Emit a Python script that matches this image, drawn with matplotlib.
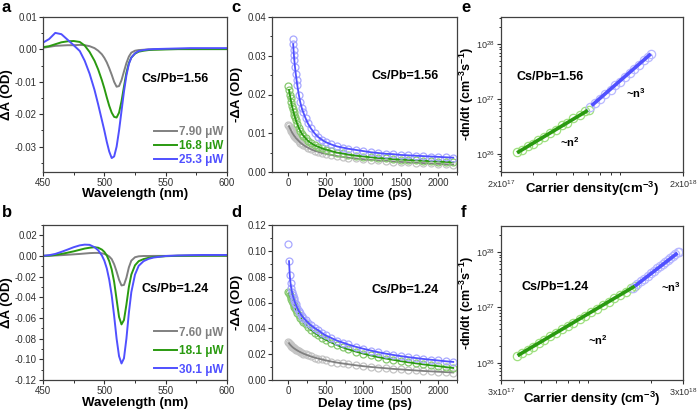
import matplotlib
matplotlib.use("Agg")
import matplotlib.pyplot as plt
from matplotlib.ticker import MultipleLocator, FixedLocator, LogLocator, NullFormatter

plt.rcParams['font.family'] = ['Liberation Sans', 'DejaVu Sans']
plt.rcParams['mathtext.fontset'] = 'custom'
plt.rcParams['mathtext.rm'] = 'Liberation Sans'
plt.rcParams['mathtext.bf'] = 'Liberation Sans:bold'

GRAY = '#808080'
GREEN = '#2a9a10'
BLUE = '#5050ff'
GRAY_M = '#c4c4c4'
GREEN_M = '#86c86e'
BLUE_M = '#a8a8ff'
GREEN_M2 = '#9ee07e'
BLUE_M2 = '#b8b8ff'

# ---- panel a / b : TA spectra ----
wl = [450, 455, 460, 465, 470, 475, 480, 484, 488, 492, 495, 498, 500, 502, 504,
      506, 508, 510, 512, 514, 516, 518, 520, 522, 525, 528, 532, 536, 540, 550,
      560, 570, 580, 590, 600]

a_labels = ['7.90 \u03bcW', '16.8 \u03bcW', '25.3 \u03bcW']
a_gray = [0.0005, 0.0008, 0.0011, 0.0012, 0.0013, 0.0013, 0.0014, 0.0013, 0.0010, 0.0004,
          -0.0004, -0.0015, -0.0026, -0.0040, -0.0058, -0.0078, -0.0100, -0.0115, -0.0113,
          -0.0095, -0.0068, -0.0042, -0.0022, -0.0010, -0.0004, -0.0002, -0.0001, 0.0000,
          0.0000, 0.0001, 0.0001, 0.0001, 0.0001, 0.0001, 0.0001]
a_green = [0.0007, 0.0010, 0.0016, 0.0022, 0.0025, 0.0026, 0.0023, 0.0012, -0.0008, -0.0035,
           -0.0062, -0.0095, -0.0120, -0.0148, -0.0174, -0.0195, -0.0208, -0.0210, -0.0195,
           -0.0160, -0.0115, -0.0072, -0.0042, -0.0025, -0.0013, -0.0007, -0.0004, -0.0002,
           -0.0001, 0.0000, 0.0001, 0.0001, 0.0001, 0.0001, 0.0001]
a_blue = [0.0021, 0.0032, 0.0051, 0.0047, 0.0030, 0.0013, -0.0005, -0.0035, -0.0075, -0.0125,
          -0.0170, -0.0218, -0.0250, -0.0285, -0.0315, -0.0335, -0.0330, -0.0300, -0.0250,
          -0.0190, -0.0130, -0.0080, -0.0045, -0.0025, -0.0012, -0.0005, -0.0002, 0.0000,
          0.0001, 0.0002, 0.0003, 0.0004, 0.0004, 0.0004, 0.0004]

b_labels = ['7.60 \u03bcW', '18.1 \u03bcW', '30.1 \u03bcW']
b_gray = [0.0000, 0.0002, 0.0005, 0.0008, 0.0012, 0.0016, 0.0020, 0.0024, 0.0028, 0.0030,
          0.0030, 0.0026, 0.0020, 0.0010, -0.0005, -0.0030, -0.0080, -0.0150, -0.0230,
          -0.0285, -0.0280, -0.0210, -0.0110, -0.0045, -0.0012, -0.0003, 0.0000, 0.0000,
          0.0001, 0.0001, 0.0002, 0.0002, 0.0002, 0.0002, 0.0002]
b_green = [0.0001, 0.0004, 0.0010, 0.0020, 0.0032, 0.0045, 0.0060, 0.0072, 0.0080, 0.0085,
           0.0080, 0.0062, 0.0040, 0.0005, -0.0050, -0.0130, -0.0250, -0.0420, -0.0590,
           -0.0662, -0.0620, -0.0470, -0.0300, -0.0180, -0.0090, -0.0050, -0.0030, -0.0018,
           -0.0010, -0.0002, 0.0002, 0.0003, 0.0004, 0.0004, 0.0004]
b_blue = [0.0002, 0.0008, 0.0020, 0.0040, 0.0062, 0.0085, 0.0103, 0.0110, 0.0108, 0.0085,
          0.0055, 0.0005, -0.0045, -0.0120, -0.0230, -0.0380, -0.0580, -0.0800, -0.0970,
          -0.1040, -0.0990, -0.0800, -0.0550, -0.0350, -0.0180, -0.0095, -0.0050, -0.0028,
          -0.0015, 0.0000, 0.0005, 0.0008, 0.0010, 0.0010, 0.0010]

# ---- panel c / d : kinetics ----
t = [0, 10, 20, 30, 40, 50, 60, 70, 80, 90, 100, 120, 140, 160, 180, 200, 230, 260,
     300, 350, 400, 450, 500, 575, 650, 725, 800, 900, 1000, 1100, 1200, 1300, 1400,
     1500, 1600, 1700, 1800, 1900, 2000, 2100, 2200]
t_cb = [60, 65, 70, 75, 80, 90, 100, 110, 120, 140, 160, 180, 200, 230, 260, 300, 350,
        400, 450, 500, 575, 650, 725, 800, 900, 1000, 1100, 1200, 1300, 1400, 1500, 1600,
        1700, 1800, 1900, 2000, 2100, 2200]

c_gray = [0.0122, 0.0118, 0.0114, 0.0110, 0.0106, 0.0102, 0.0099, 0.0096, 0.0093, 0.0091,
          0.0088, 0.0084, 0.0080, 0.0076, 0.0073, 0.0070, 0.0066, 0.0063, 0.0059, 0.0055,
          0.0052, 0.0049, 0.0047, 0.0044, 0.0041, 0.0039, 0.0037, 0.0035, 0.0033, 0.0031,
          0.0030, 0.0029, 0.0027, 0.0026, 0.0025, 0.0024, 0.0023, 0.0022, 0.0021, 0.0020,
          0.0019]
c_green = [0.0222, 0.0212, 0.0200, 0.0190, 0.0180, 0.0170, 0.0162, 0.0155, 0.0148, 0.0141,
           0.0135, 0.0124, 0.0114, 0.0106, 0.0099, 0.0094, 0.0087, 0.0081, 0.0075, 0.0069,
           0.0065, 0.0061, 0.0058, 0.0054, 0.0050, 0.0048, 0.0045, 0.0042, 0.0040, 0.0038,
           0.0036, 0.0035, 0.0033, 0.0032, 0.0031, 0.0030, 0.0029, 0.0028, 0.0027, 0.0026,
           0.0025]
c_blue = [0.0344, 0.0330, 0.0315, 0.0302, 0.0290, 0.0270, 0.0253, 0.0238, 0.0224, 0.0200,
          0.0180, 0.0165, 0.0154, 0.0139, 0.0126, 0.0113, 0.0100, 0.0090, 0.0083, 0.0077,
          0.0071, 0.0066, 0.0063, 0.0060, 0.0057, 0.0054, 0.0051, 0.0049, 0.0047, 0.0046,
          0.0044, 0.0043, 0.0042, 0.0041, 0.0040, 0.0039, 0.0038, 0.0037]

d_gray = [0.0295, 0.0285, 0.0277, 0.0270, 0.0264, 0.0258, 0.0253, 0.0248, 0.0244, 0.0240,
          0.0236, 0.0229, 0.0222, 0.0216, 0.0210, 0.0205, 0.0198, 0.0191, 0.0183, 0.0174,
          0.0166, 0.0159, 0.0152, 0.0143, 0.0135, 0.0128, 0.0122, 0.0114, 0.0107, 0.0101,
          0.0096, 0.0091, 0.0086, 0.0082, 0.0078, 0.0074, 0.0070, 0.0067, 0.0064, 0.0061,
          0.0058]
d_green = [0.0685, 0.0670, 0.0655, 0.0640, 0.0625, 0.0610, 0.0595, 0.0580, 0.0567, 0.0555,
           0.0543, 0.0520, 0.0500, 0.0482, 0.0465, 0.0450, 0.0430, 0.0412, 0.0390, 0.0367,
           0.0346, 0.0328, 0.0312, 0.0290, 0.0270, 0.0253, 0.0238, 0.0220, 0.0204, 0.0190,
           0.0177, 0.0166, 0.0156, 0.0146, 0.0137, 0.0129, 0.0121, 0.0114, 0.0107, 0.0100,
           0.0093]
d_blue = [0.1050, 0.0920, 0.0810, 0.0750, 0.0710, 0.0680, 0.0655, 0.0635, 0.0617, 0.0600,
          0.0585, 0.0558, 0.0535, 0.0515, 0.0498, 0.0483, 0.0463, 0.0445, 0.0425, 0.0403,
          0.0385, 0.0363, 0.0345, 0.0325, 0.0305, 0.0290, 0.0275, 0.0257, 0.0242, 0.0228,
          0.0215, 0.0204, 0.0194, 0.0185, 0.0177, 0.0170, 0.0163, 0.0157, 0.0151, 0.0145,
          0.0140]

# ---- panel e / f : -dn/dt vs n ----
e_n2_x = [2.45e17, 2.6e17, 2.8e17, 3.0e17, 3.2e17, 3.45e17, 3.7e17, 4.0e17, 4.3e17,
          4.6e17, 5.0e17, 5.4e17, 5.8e17, 6.1e17]
e_n2_y = [1.08e26, 1.16e26, 1.40e26, 1.55e26, 1.82e26, 2.05e26, 2.42e26, 2.76e26,
          3.30e26, 3.65e26, 4.42e26, 5.02e26, 5.95e26, 6.4e26]
e_n3_x = [6.2e17, 6.6e17, 7.0e17, 7.5e17, 8.0e17, 8.5e17, 9.0e17, 9.6e17, 1.02e18,
          1.08e18, 1.15e18, 1.22e18, 1.29e18, 1.34e18]
e_n3_y = [7.3e26, 8.6e26, 9.8e26, 1.25e27, 1.45e27, 1.80e27, 2.05e27, 2.55e27, 2.95e27,
          3.58e27, 4.18e27, 5.10e27, 5.85e27, 6.5e27]
e_fit2_x = [2.45e17, 6.0e17]
e_fit2_y = [1.05e26, 6.2e26]
e_fit3_x = [6.3e17, 1.33e18]
e_fit3_y = [7.6e26, 6.6e27]

f_n2_x = [3.65e17, 3.9e17, 4.2e17, 4.5e17, 4.85e17, 5.2e17, 5.6e17, 6.0e17, 6.5e17,
          7.0e17, 7.5e17, 8.1e17, 8.7e17, 9.4e17, 1.01e18, 1.09e18, 1.17e18, 1.26e18,
          1.35e18, 1.45e18, 1.56e18, 1.64e18]
f_n2_y = [1.31e26, 1.49e26, 1.73e26, 1.97e26, 2.28e26, 2.61e26, 3.02e26, 3.45e26,
          4.03e26, 4.65e26, 5.32e26, 6.17e26, 7.09e26, 8.25e26, 9.48e26, 1.10e27,
          1.26e27, 1.46e27, 1.66e27, 1.91e27, 2.20e27, 2.43e27]
f_n3_x = [1.60e18, 1.68e18, 1.76e18, 1.84e18, 1.92e18, 2.00e18, 2.08e18, 2.16e18,
          2.24e18, 2.32e18, 2.40e18, 2.48e18, 2.56e18, 2.64e18, 2.72e18, 2.80e18, 2.86e18]
f_n3_y = [2.28e27, 2.60e27, 2.94e27, 3.30e27, 3.70e27, 4.12e27, 4.57e27, 5.05e27,
          5.55e27, 6.09e27, 6.66e27, 7.26e27, 7.90e27, 8.56e27, 9.26e27, 9.9e27, 1.02e28]
f_fit2_x = [3.7e17, 1.63e18]
f_fit2_y = [1.35e26, 2.42e27]
f_fit3_x = [1.63e18, 2.8e18]
f_fit3_y = [2.42e27, 9.6e27]

W, H = 698, 413
fig = plt.figure(figsize=(W / 100, H / 100), dpi=100)


def box(l, t_, r, b):
    return [l / W, 1 - b / H, (r - l) / W, (b - t_) / H]


ax_a = fig.add_axes(box(43, 17, 227, 172))
ax_b = fig.add_axes(box(43, 225, 227, 380))
ax_c = fig.add_axes(box(272, 17, 457, 172))
ax_d = fig.add_axes(box(272, 225, 457, 380))
ax_e = fig.add_axes(box(501, 17, 683, 172))
ax_f = fig.add_axes(box(501, 226, 683, 380))

LAB = dict(fontsize=9.5, fontweight='bold')
TXT = dict(fontsize=9, fontweight='bold')

for ax in [ax_a, ax_b, ax_c, ax_d, ax_e, ax_f]:
    for s in ax.spines.values():
        s.set_color('#404040')
        s.set_linewidth(0.9)
    ax.tick_params(which='both', direction='out', labelsize=7, colors='#303030',
                   top=False, right=False, pad=1.5)
    ax.tick_params(which='major', length=2.8, width=0.8)
    ax.tick_params(which='minor', length=1.8, width=0.7)


def place_labels(ax, xl_y, yl_x):
    ax.xaxis.set_label_coords(0.5, xl_y)
    ax.xaxis.label.set_va('center')
    ax.yaxis.set_label_coords(yl_x, 0.5)
    ax.yaxis.label.set_va('center')


# spectra
for ax, ys, labels, ylim, ystep, txt, ty, leg_bbox, leg_sp, xly in [
        (ax_a, [a_gray, a_green, a_blue], a_labels, (-0.0378, 0.01), 0.01,
         'Cs/Pb=1.56', 0.60, (1.04, -0.03), 0.15, -0.145),
        (ax_b, [b_gray, b_green, b_blue], b_labels, (-0.12, 0.03), 0.02,
         'Cs/Pb=1.24', 0.585, (1.04, -0.04), 0.55, -0.15)]:
    for y, c, lab in zip(ys, [GRAY, GREEN, BLUE], labels):
        ax.plot(wl, y, color=c, lw=1.4, label=lab)
    ax.set_xlim(450, 600)
    ax.set_ylim(*ylim)
    ax.xaxis.set_major_locator(MultipleLocator(50))
    ax.xaxis.set_minor_locator(MultipleLocator(25))
    ax.yaxis.set_major_locator(MultipleLocator(ystep))
    ax.yaxis.set_minor_locator(MultipleLocator(ystep / 2))
    ax.yaxis.set_major_formatter(plt.FuncFormatter(lambda v, p: f'{v:.2f}'))
    ax.set_xlabel('Wavelength (nm)', **LAB)
    ax.set_ylabel('\u0394A (OD)', **LAB)
    place_labels(ax, xly, -0.195)
    ax.text(0.72, ty, txt, transform=ax.transAxes, ha='center', va='center', **TXT)
    ax.legend(loc='lower right', bbox_to_anchor=leg_bbox, frameon=False,
              handlelength=1.9, handletextpad=0.2, labelspacing=leg_sp,
              prop=dict(size=8.5, weight='bold'), labelcolor='linecolor')

# kinetics
for ax, g, gr, bl, tb, ylim, ystep, txt, ty, xly in [
        (ax_c, c_gray, c_green, c_blue, t_cb, (0, 0.04), 0.01, 'Cs/Pb=1.56', 0.62, -0.145),
        (ax_d, d_gray, d_green, d_blue, t, (0, 0.12), 0.02, 'Cs/Pb=1.24', 0.58, -0.152)]:
    for tt, y, mc, lc in [(t, g, GRAY_M, GRAY), (t, gr, GREEN_M, GREEN), (tb, bl, BLUE_M, BLUE)]:
        ax.plot(tt, y, 'o', ms=5, mfc='none', mec=mc, mew=0.9)
        ax.plot(tt[1:], y[1:], '-', color=lc, lw=1.3)
    ax.set_xlim(-217, 2250)
    ax.set_ylim(*ylim)
    ax.xaxis.set_major_locator(MultipleLocator(500))
    ax.xaxis.set_minor_locator(MultipleLocator(250))
    ax.yaxis.set_major_locator(MultipleLocator(ystep))
    ax.yaxis.set_minor_locator(MultipleLocator(ystep / 2))
    ax.yaxis.set_major_formatter(plt.FuncFormatter(lambda v, p: f'{v:.2f}'))
    ax.set_xlabel('Delay time (ps)', **LAB)
    ax.set_ylabel('-\u0394A (OD)', **LAB)
    place_labels(ax, xly, -0.19)
    ax.text(0.72, ty, txt, transform=ax.transAxes, ha='center', va='center', **TXT)

# rate vs density
for ax, n2x, n2y, n3x, n3y, f2x, f2y, f3x, f3y, xlim, ylim, xlab, xt, txt, pos, xly in [
        (ax_e, e_n2_x, e_n2_y, e_n3_x, e_n3_y, e_fit2_x, e_fit2_y, e_fit3_x, e_fit3_y,
         (2e17, 2e18), (4.7e25, 3.1e28), 'Carrier density(cm$^{\\mathbf{-3}}$)',
         ['2x10$^{17}$', '2x10$^{18}$'], 'Cs/Pb=1.56',
         [(0.27, 0.613), (0.74, 0.51), (0.38, 0.19)], -0.11),
        (ax_f, f_n2_x, f_n2_y, f_n3_x, f_n3_y, f_fit2_x, f_fit2_y, f_fit3_x, f_fit3_y,
         (3e17, 3e18), (4.9e25, 2.95e28), 'Carrier density (cm$^{\\mathbf{-3}}$)',
         ['3x10$^{17}$', '3x10$^{18}$'], 'Cs/Pb=1.24',
         [(0.30, 0.606), (0.93, 0.60), (0.53, 0.26)], -0.12)]:
    ax.set_xscale('log')
    ax.set_yscale('log')
    ax.plot(n2x, n2y, 'o', ms=6, mfc='none', mec=GREEN_M2, mew=0.9)
    ax.plot(n3x, n3y, 'o', ms=6, mfc='none', mec=BLUE_M2, mew=0.9)
    ax.plot(f2x, f2y, '-', color=GREEN, lw=2.6, solid_capstyle='butt')
    ax.plot(f3x, f3y, '-', color=BLUE, lw=2.6, solid_capstyle='butt')
    ax.set_xlim(*xlim)
    ax.set_ylim(*ylim)
    ax.xaxis.set_major_locator(FixedLocator(list(xlim)))
    ax.set_xticklabels(xt)
    ax.xaxis.set_minor_locator(LogLocator(base=10, subs=range(2, 10)))
    ax.xaxis.set_minor_formatter(NullFormatter())
    ax.yaxis.set_major_locator(FixedLocator([1e26, 1e27, 1e28]))
    ax.set_yticklabels(['10$^{26}$', '10$^{27}$', '10$^{28}$'])
    ax.yaxis.set_minor_locator(LogLocator(base=10, subs=range(2, 10)))
    ax.yaxis.set_minor_formatter(NullFormatter())
    ax.tick_params(labelsize=6.5)
    ax.set_xlabel(xlab, **LAB)
    ax.set_ylabel('-dn/dt (cm$^{\\mathbf{-3}}$s$^{\\mathbf{-1}}$)', fontsize=9,
                  fontweight='bold')
    place_labels(ax, xly, -0.19)
    ax.text(*pos[0], txt, transform=ax.transAxes, ha='center', va='center', **TXT)
    ax.text(*pos[1], '~n$^{\\mathbf{3}}$', transform=ax.transAxes, ha='center', va='center',
            fontsize=8, fontweight='bold')
    ax.text(*pos[2], '~n$^{\\mathbf{2}}$', transform=ax.transAxes, ha='center', va='center',
            fontsize=8, fontweight='bold')

for lab, x, y in [('a', 2, 0), ('b', 2, 205), ('c', 231, 0), ('d', 231, 205),
                  ('e', 461, 0), ('f', 461, 205)]:
    fig.text(x / W, 1 - y / H, lab, ha='left', va='top', fontsize=12, fontweight='bold')

fig.savefig('out.png', dpi=100)
